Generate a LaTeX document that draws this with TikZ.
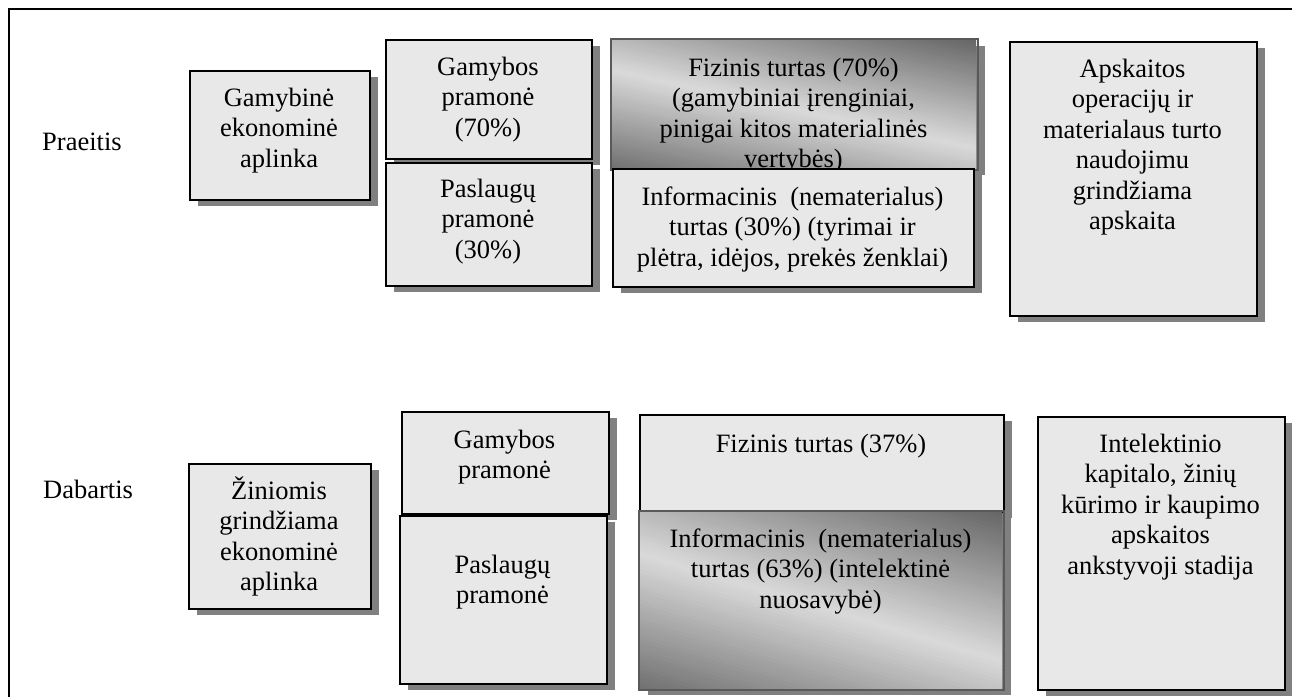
\documentclass[tikz,border=0pt]{standalone}
\usepackage{fontspec}
\setmainfont{Liberation Serif}
\usetikzlibrary{shadows}

\definecolor{boxfill}{HTML}{E8E8E8}
\definecolor{shadowgray}{HTML}{808080}
\definecolor{metaldark}{HTML}{626262}
\definecolor{metallight}{HTML}{DADADA}

% body font with fixed line pitch
\newcommand{\panelfont}{\fontsize{26.5}{30.5}\selectfont\lineskiplimit-50pt\relax}
% strut that fixes the height of the first text line
\newcommand{\firstln}{\vrule height 25pt depth 0pt width 0pt\relax}

% tone of the metallic fill: s = A(u-1/2) - B(v-1/2) + G over the box (u right, v down),
% lightness 1-|s|: dark in the top-right and bottom-left corners
\newcommand{\metalA}{0.7}
\newcommand{\metalB}{1.15}
\newcommand{\metalG}{0.05}

% metallic fill of a box: left, top, width, height, painted as bands of equal tone
\newcommand{\metalfill}[4]{%
  \begin{scope}
    \clip (#1,#2) rectangle ++(#3,#4);
    \foreach \k in {0,...,95}{
      \pgfmathsetmacro{\stripa}{-1.2+\k*0.025}
      \pgfmathsetmacro{\stripb}{\stripa+0.035}
      \pgfmathsetmacro{\stripl}{100*max(0,1-abs(\stripa+0.0125))}
      \pgfmathsetmacro{\stripua}{0.5+(\stripa-\metalG-1.5*\metalB)/\metalA}
      \pgfmathsetmacro{\stripub}{0.5+(\stripa-\metalG+1.5*\metalB)/\metalA}
      \pgfmathsetmacro{\stripuc}{0.5+(\stripb-\metalG+1.5*\metalB)/\metalA}
      \pgfmathsetmacro{\stripud}{0.5+(\stripb-\metalG-1.5*\metalB)/\metalA}
      \fill[metallight!\stripl!metaldark]
        ({#1+\stripua*#3},{#2-#4}) -- ({#1+\stripub*#3},{#2+2*#4}) --
        ({#1+\stripuc*#3},{#2+2*#4}) -- ({#1+\stripud*#3},{#2-#4}) -- cycle;
    }
  \end{scope}}

\tikzset{
  panel/.style={draw=black, line width=1.8pt, fill=boxfill, inner sep=0pt, anchor=north west,
    drop shadow={shadow xshift=8pt, shadow yshift=-6pt, fill=shadowgray, opacity=1}},
  metalpanel/.style={panel, draw=none, fill=none},
  metalborder/.style={draw=black!65, line width=1.5pt},
  txt/.style={font=\panelfont, align=center, inner sep=0pt, anchor=north},
  rowlabel/.style={font=\panelfont, inner sep=0pt, anchor=base west}
}

\begin{document}
\begin{tikzpicture}[x=1pt, y=-1pt]
\useasboundingbox (0,0) rectangle (1292,697);
\fill[white] (0,0) rectangle (1292,697);

% frame
\draw[line width=2.2pt] (8,9) -- (1292,9);
\draw[line width=2.5pt] (9,8) -- (9,697);

% row labels
\node[rowlabel] (past) at (42,150) {Praeitis};
\node[rowlabel] (present) at (43,498) {Dabartis};

% ---------- past ----------
\node[panel, minimum width=180pt, minimum height=129pt] (envold) at (189,70) {};
\node[txt] (envoldt) at (279,81) {\firstln Gamybinė\\ekonominė\\aplinka};

\node[panel, minimum width=206pt, minimum height=119pt] (manold) at (385,39) {};
\node[txt] (manoldt) at (488,50) {\firstln Gamybos\\pramonė\\(70\%)};

\node[panel, minimum width=206pt, minimum height=123pt] (servold) at (385,162) {};
\node[txt] (servoldt) at (488,172) {\firstln Paslaugų\\pramonė\\(30\%)};

\node[metalpanel, minimum width=365pt, minimum height=129pt] (physold) at (611,39) {};
\metalfill{611}{39}{365}{129}
\draw[metalborder] (physold.north west) rectangle (physold.south east);
\node[txt] (physoldt) at (793.5,51) {\firstln Fizinis turtas (70\%)\\(gamybiniai įrenginiai,\\pinigai kitos materialinės\\vertybės)};

\node[panel, minimum width=361pt, minimum height=118pt] (infoold) at (612,168) {};
\node[txt] (infooldt) at (792.5,180) {\firstln Informacinis\ \ (nematerialus)\\turtas (30\%) (tyrimai ir\\plėtra, idėjos, prekės ženklai)};

\node[panel, minimum width=247pt, minimum height=274pt] (acctold) at (1009,41) {};
\node[txt] (acctoldt) at (1132.5,52) {\firstln Apskaitos\\operacijų ir\\materialaus turto\\naudojimu\\grindžiama\\apskaita};

% ---------- present ----------
\node[panel, minimum width=182pt, minimum height=145pt] (envnow) at (188,463) {};
\node[txt] (envnowt) at (279,474) {\firstln Žiniomis\\grindžiama\\ekonominė\\aplinka};

\node[panel, minimum width=207pt, minimum height=102pt] (mannow) at (401,411) {};
\node[txt] (mannowt) at (504.5,423) {\firstln Gamybos\\pramonė};

\node[panel, minimum width=207pt, minimum height=168pt] (servnow) at (399,515) {};
\node[txt] (servnowt) at (502.5,548) {\firstln Paslaugų\\pramonė};

\node[panel, minimum width=364pt, minimum height=97pt] (physnow) at (639,414) {};
\node[txt] (physnowt) at (821,427) {\firstln Fizinis turtas (37\%)};

\node[metalpanel, minimum width=363pt, minimum height=177pt] (infonow) at (639,511) {};
\metalfill{639}{511}{363}{177}
\draw[metalborder] (infonow.north west) rectangle (infonow.south east);
\node[txt] (infonowt) at (820.5,522) {\firstln Informacinis\ \ (nematerialus)\\turtas (63\%) (intelektinė\\nuosavybė)};

\node[panel, minimum width=247pt, minimum height=273pt] (acctnow) at (1037,416) {};
\node[txt] (acctnowt) at (1160.5,427) {\firstln Intelektinio\\kapitalo, žinių\\kūrimo ir kaupimo\\apskaitos\\ankstyvoji stadija};
\end{tikzpicture}
\end{document}
